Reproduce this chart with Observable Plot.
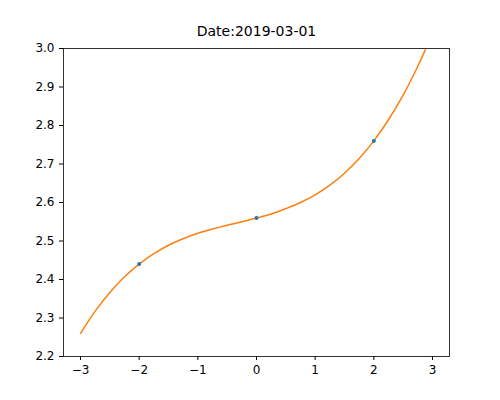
<!DOCTYPE html>
<html>
<head>
<meta charset="utf-8">
<script src="https://cdn.jsdelivr.net/npm/d3@7"></script>
<script src="https://cdn.jsdelivr.net/npm/@observablehq/plot@0.6"></script>
<style>
  body { margin: 0; background: #fff; }
</style>
</head>
<body>
<div id="chart"></div>
<script>
const sampleX = [-2, 0, 2]
const sampleY = [2.44, 2.56, 2.76]
const fitX = [-3, -2.75, -2.5, -2.25, -2, -1.75, -1.5, -1.25, -1, -0.75, -0.5, -0.25, 0,
  0.25, 0.5, 0.75, 1, 1.25, 1.5, 1.75, 2, 2.25, 2.5, 2.75, 2.88]
const fitY = [2.26, 2.318, 2.366, 2.407, 2.44, 2.467, 2.489, 2.506, 2.52, 2.531, 2.541, 2.55, 2.56,
  2.57, 2.584, 2.6, 2.62, 2.645, 2.676, 2.714, 2.76, 2.815, 2.879, 2.954, 2.997]
const xTicks = [-3, -2, -1, 0, 1, 2, 3]
const yTicks = [2.2, 2.3, 2.4, 2.5, 2.6, 2.7, 2.8, 2.9, 3.0]

const samples = sampleX.map((x, i) => ({x, y: sampleY[i]}))
const fit = fitX.map((x, i) => ({x, y: fitY[i]}))

const chart = Plot.plot({
  width: 500,
  height: 400,
  marginLeft: 63,
  marginRight: 51,
  marginTop: 48,
  marginBottom: 44,
  style: {fontFamily: "DejaVu Sans", fontSize: "12px", color: "#000", background: "#fff"},
  x: {domain: [-3.29, 3.29], ticks: xTicks, tickFormat: d => String(d).replace("-", "\u2212"), label: null, tickSize: 4},
  y: {domain: [2.2, 3.0], ticks: yTicks, tickFormat: d3.format(".1f"), label: null, tickSize: 4},
  marks: [
    Plot.line(fit, {x: "x", y: "y", stroke: "#ff7f0e", strokeWidth: 1.5, curve: "catmull-rom"}),
    Plot.dot(samples, {x: "x", y: "y", r: 2, fill: "#1f77b4"}),
    Plot.frame({stroke: "#000", strokeWidth: 0.8}),
    Plot.text(["Date:2019-03-01"], {frameAnchor: "top", dy: -13, fontSize: 14, lineAnchor: "bottom"})
  ]
})
d3.select('#chart').append(() => chart)
</script>
</body>
</html>
